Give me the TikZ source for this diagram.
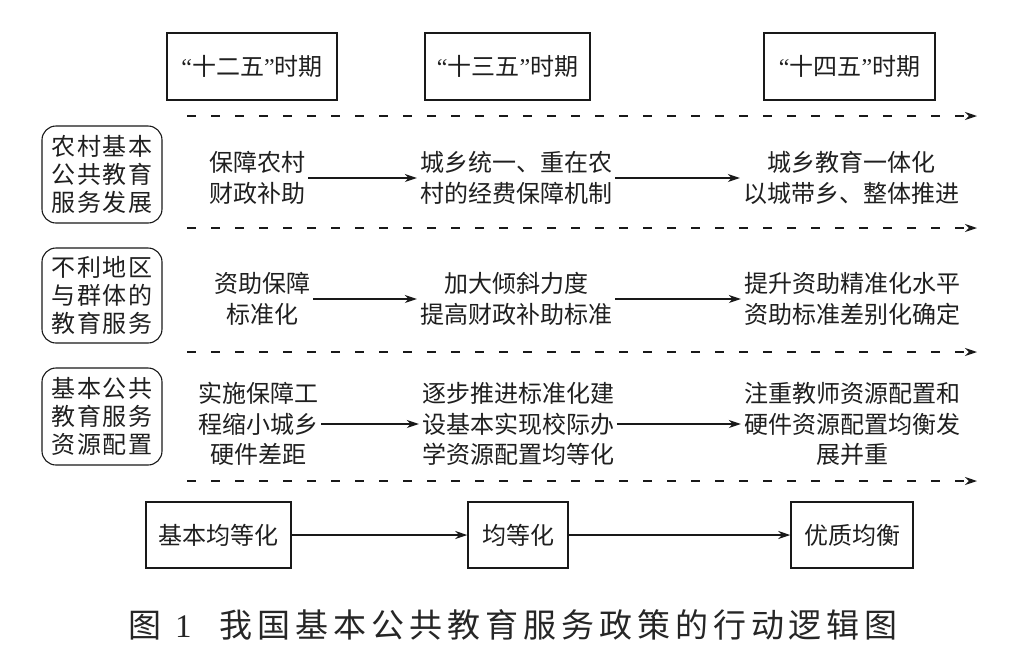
\documentclass[tikz,border=0pt]{standalone}
\usepackage{fontspec}
\newfontfamily\cjk{Noto Sans CJK SC}
\newfontfamily\latin{Liberation Serif}
\usetikzlibrary{arrows.meta}
\newcommand\pquote[1]{{\latin“}#1{\latin”}}
\begin{document}
\begin{tikzpicture}[x=1pt,y=-1pt,
  txt/.style={font=\cjk\fontsize{24}{30.5}\selectfont, align=center, inner sep=3pt, text=black!88},
  period/.style={draw=black!90, line width=1.5pt, minimum height=67pt, inner sep=0pt,
    font=\cjk\fontsize{24}{30}\selectfont, text=black!88},
  cat/.style={draw=black!90, rounded corners=14pt, line width=1.1pt, minimum width=120pt,
    inner sep=0pt, align=left, font=\cjk\fontsize{24}{28}\selectfont\addfontfeatures{LetterSpace=8}, text=black!88},
  goal/.style={draw=black!90, line width=1.5pt, minimum height=66pt, inner sep=0pt,
    font=\cjk\fontsize{24}{30}\selectfont, text=black!88},
  arr/.style={draw=black!90, line width=1.3pt, -{Stealth[length=12pt,width=8pt]}},
  dsh/.style={draw=black!90, line width=1.5pt, dash pattern=on 9pt off 15pt, -{Stealth[length=12pt,width=8pt]}}
]
\fill[white] (0,0) rectangle (1028,665);
\useasboundingbox (0,0) rectangle (1028,665);

% period boxes
\node[period, minimum width=170pt] (p1) at (252,66.5) {\pquote{十二五}时期};
\node[period, minimum width=165pt] (p2) at (507.5,66.5) {\pquote{十三五}时期};
\node[period, minimum width=171pt] (p3) at (849.5,66.5) {\pquote{十四五}时期};

% dashed separators
\coordinate (d1s) at (187,116); \coordinate (d1e) at (977,116);
\coordinate (d2s) at (187,228); \coordinate (d2e) at (977,228);
\coordinate (d3s) at (187,352); \coordinate (d3e) at (977,352);
\coordinate (d4s) at (187,481); \coordinate (d4e) at (977,481);
\draw[dsh] (d1s) -- (d1e);
\draw[dsh] (d2s) -- (d2e);
\draw[dsh] (d3s) -- (d3e);
\draw[dsh] (d4s) -- (d4e);

% category boxes
\node[cat, minimum height=97pt] (c1) at (102,174.5) {农村基本\\公共教育\\服务发展};
\node[cat, minimum height=95pt] (c2) at (102,295.5) {不利地区\\与群体的\\教育服务};
\node[cat, minimum height=97pt] (c3) at (102,416.5) {基本公共\\教育服务\\资源配置};

% row 1
\node[txt] (a1) at (257,178) {保障农村\\财政补助};
\node[txt] (a2) at (516,178) {城乡统一、重在农\\村的经费保障机制};
\node[txt] (a3) at (851,178) {城乡教育一体化\\以城带乡、整体推进};
\draw[arr] (a1) -- (a2);
\draw[arr] (a2) -- (a3);

% row 2
\node[txt] (b1) at (262,299) {资助保障\\标准化};
\node[txt] (b2) at (516,299) {加大倾斜力度\\提高财政补助标准};
\node[txt] (b3) at (852,299) {提升资助精准化水平\\资助标准差别化确定};
\draw[arr] (b1) -- (b2);
\draw[arr] (b2) -- (b3);

% row 3
\node[txt] (e1) at (258,424) {实施保障工\\程缩小城乡\\硬件差距};
\node[txt] (e2) at (518,424) {逐步推进标准化建\\设基本实现校际办\\学资源配置均等化};
\node[txt] (e3) at (852,424) {注重教师资源配置和\\硬件资源配置均衡发\\展并重};
\draw[arr] (e1) -- (e2);
\draw[arr] (e2) -- (e3);

% goals
\node[goal, minimum width=145pt] (g1) at (218.5,535) {基本均等化};
\node[goal, minimum width=100pt] (g2) at (518,535) {均等化};
\node[goal, minimum width=122pt] (g3) at (852,535) {优质均衡};
\draw[arr] (g1) -- (g2);
\draw[arr] (g2) -- (g3);

% caption
\node[anchor=west, inner sep=0pt, text=black!85, font=\cjk\fontsize{33}{36}\selectfont] (cap) at (128,625)
  {图\hspace{14pt}{\latin 1}\hspace{28pt}{\addfontfeatures{LetterSpace=15}我国基本公共教育服务政策的行动逻辑图}};
\end{tikzpicture}
\end{document}
